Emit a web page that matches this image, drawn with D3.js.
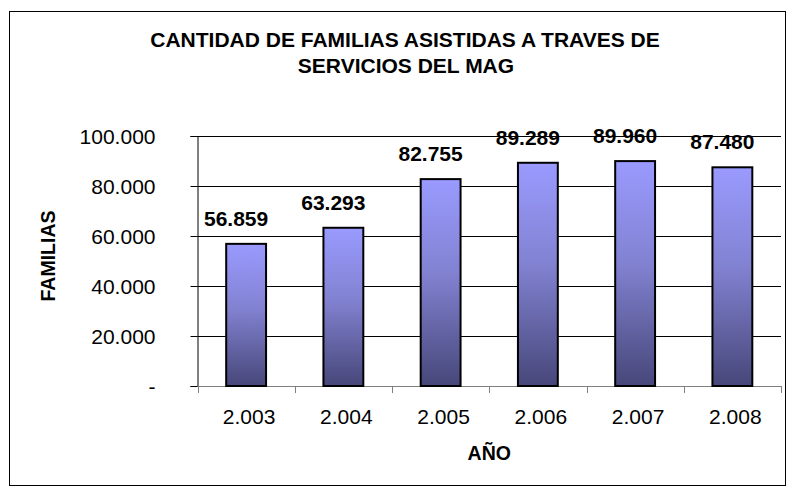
<!DOCTYPE html>
<html>
<head>
<meta charset="utf-8">
<script src="https://cdn.jsdelivr.net/npm/d3@7.9.0/dist/d3.min.js"></script>
<style>
  body { margin: 0; background: #fff; }
  svg { display: block; font-family: "Liberation Sans", Arial, sans-serif; }
</style>
</head>
<body>
<svg id="chart" width="787" height="488"></svg>
<script>
// data
const years = ['2.003', '2.004', '2.005', '2.006', '2.007', '2.008'];
const familias = [56859, 63293, 82755, 89289, 89960, 87480];
const yTicks = [0, 20000, 40000, 60000, 80000, 100000];

const svg = d3.select('#chart');
const fmt = d3.formatLocale({ decimal: ',', thousands: '.', grouping: [3], currency: ['', ''] }).format(',d');

// outer frame
svg.append('rect')
  .attr('x', 9.5).attr('y', 11.5)
  .attr('width', 776).attr('height', 474)
  .attr('fill', '#fff').attr('stroke', '#000').attr('stroke-width', 1);

const plot = { left: 197.5, right: 781, top: 136, bottom: 386 };

let x = d3.scaleBand()
  .domain(years)
  .range([plot.left, plot.right])
  .paddingInner(0.59)
  .paddingOuter(0.295);

let y = d3.scaleLinear().domain([0, 100000]).range([plot.bottom, plot.top]);

// gradient for bars
const grad = svg.append('defs').append('linearGradient')
  .attr('id', 'barGrad').attr('x1', 0).attr('y1', 0).attr('x2', 0).attr('y2', 1);
grad.append('stop').attr('offset', '0%').attr('stop-color', '#9a9aff');
grad.append('stop').attr('offset', '45%').attr('stop-color', '#8282d2');
grad.append('stop').attr('offset', '100%').attr('stop-color', '#47477a');

// gridlines
svg.append('g')
  .selectAll('line')
  .data(yTicks.slice(1))
  .join('line')
  .attr('x1', plot.left).attr('x2', plot.right)
  .attr('y1', d => Math.round(y(d)) + 0.5).attr('y2', d => Math.round(y(d)) + 0.5)
  .attr('stroke', '#000').attr('stroke-width', 1);

// y axis
const yAxis = svg.append('g')
  .attr('transform', `translate(${plot.left},0)`)
  .call(d3.axisLeft(y).tickValues(yTicks).tickSize(7).tickPadding(35)
    .tickFormat(d => d === 0 ? '-' : fmt(d)));
yAxis.select('.domain').attr('stroke', '#000');
yAxis.selectAll('.tick line').attr('stroke', '#000');
yAxis.selectAll('.tick text')
  .attr('font-size', 21).attr('fill', '#000').attr('dy', '0.36em');

// x axis
const step = x.step();
const bounds = d3.range(years.length + 1).map(i => plot.left + i * step);
svg.append('line')
  .attr('x1', plot.left).attr('x2', plot.right)
  .attr('y1', plot.bottom + 0.5).attr('y2', plot.bottom + 0.5)
  .attr('stroke', '#808080').attr('stroke-width', 1);
svg.append('g')
  .selectAll('line')
  .data(bounds)
  .join('line')
  .attr('x1', d => Math.round(d) + 0.5).attr('x2', d => Math.round(d) + 0.5)
  .attr('y1', plot.bottom).attr('y2', plot.bottom + 7)
  .attr('stroke', '#808080');
svg.append('g')
  .selectAll('text')
  .data(years)
  .join('text')
  .attr('x', d => x(d) + x.bandwidth() / 2 + 3)
  .attr('y', 424)
  .attr('text-anchor', 'middle')
  .attr('font-size', 21)
  .text(d => d);

// bars
svg.append('g')
  .selectAll('rect')
  .data(familias)
  .join('rect')
  .attr('x', (d, i) => x(years[i]))
  .attr('y', d => y(d))
  .attr('width', x.bandwidth())
  .attr('height', d => y(0) - y(d))
  .attr('fill', 'url(#barGrad)')
  .attr('stroke', '#000')
  .attr('stroke-width', 2);

// value labels
svg.append('g')
  .selectAll('text')
  .data(familias)
  .join('text')
  .attr('x', (d, i) => x(years[i]) + x.bandwidth() / 2 - 10)
  .attr('y', d => y(d) - 18)
  .attr('text-anchor', 'middle')
  .attr('font-size', 21)
  .attr('font-weight', 'bold')
  .text(d => fmt(d));

// titles
const title = svg.append('text')
  .attr('text-anchor', 'middle')
  .attr('font-size', 21)
  .attr('font-weight', 'bold');
title.append('tspan').attr('x', 405).attr('y', 46.5).text('CANTIDAD DE FAMILIAS ASISTIDAS A TRAVES DE');
title.append('tspan').attr('x', 406).attr('y', 73).text('SERVICIOS DEL MAG');

svg.append('text')
  .attr('x', (plot.left + plot.right) / 2)
  .attr('y', 460)
  .attr('text-anchor', 'middle')
  .attr('font-size', 19.5)
  .attr('font-weight', 'bold')
  .text('AÑO');

svg.append('text')
  .attr('transform', 'translate(54.5,256) rotate(-90)')
  .attr('text-anchor', 'middle')
  .attr('font-size', 19.5)
  .attr('font-weight', 'bold')
  .text('FAMILIAS');
</script>
</body>
</html>
